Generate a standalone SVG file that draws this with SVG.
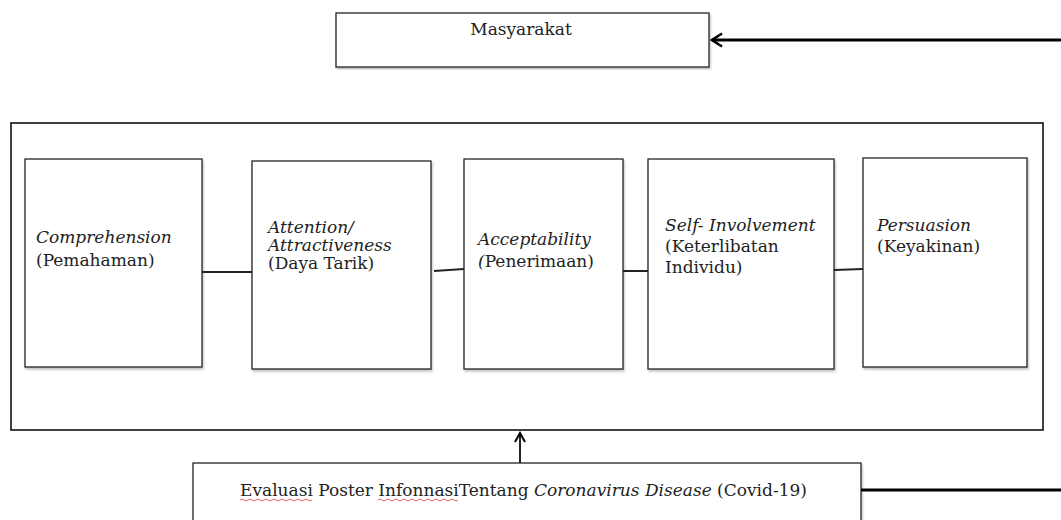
<svg xmlns="http://www.w3.org/2000/svg" width="1061" height="520" viewBox="0 0 1061 520">
<defs>
<filter id="sh" x="-5%" y="-5%" width="110%" height="110%">
<feDropShadow dx="1" dy="2" stdDeviation="1" flood-color="#000" flood-opacity="0.25"/>
</filter>
<marker id="chev" viewBox="0 0 12 12" refX="10" refY="6" markerWidth="12" markerHeight="12" markerUnits="userSpaceOnUse" orient="auto">
<path d="M1,1 L10,6 L1,11" fill="none" stroke="#000" stroke-width="2"/>
</marker>
<marker id="chevBig" viewBox="0 0 14 16" refX="12" refY="8" markerWidth="14" markerHeight="16" markerUnits="userSpaceOnUse" orient="auto">
<path d="M2,1.5 L12,8 L2,14.5" fill="none" stroke="#000" stroke-width="2.6"/>
</marker>
</defs>
<style>
.box{fill:#fff;stroke:#222;stroke-width:1.3;filter:url(#sh)}
.outer{fill:#fff;stroke:#111;stroke-width:1.6}
text{font-family:"DejaVu Serif","Liberation Serif",serif;font-size:17px;fill:#222}
.it{font-style:italic}
.con{stroke:#222;stroke-width:2;fill:none}
.thick{stroke:#000;stroke-width:3;fill:none}
.sq{stroke:#d33;stroke-width:0.8;fill:none}
</style>
<rect width="1061" height="520" fill="#fff"/>
<g id="masyarakat">
<rect class="box" x="336" y="13" width="373" height="54"/>
<text x="521" y="35" text-anchor="middle">Masyarakat</text>
</g>
<g id="outer">
<rect class="outer" x="11" y="123" width="1032" height="307"/>
</g>
<g id="comprehension">
<rect class="box" x="25" y="159" width="177" height="208"/>
<text x="36" y="243"><tspan class="it">Comprehension</tspan><tspan x="36" dy="23">(Pemahaman)</tspan></text>
</g>
<g id="attention">
<rect class="box" x="252" y="161" width="179" height="208"/>
<text x="268" y="233"><tspan class="it">Attention/</tspan><tspan class="it" x="268" dy="18">Attractiveness</tspan><tspan x="268" dy="18">(Daya Tarik)</tspan></text>
</g>
<g id="acceptability">
<rect class="box" x="464" y="159" width="159" height="210"/>
<text x="478" y="245"><tspan class="it">Acceptability</tspan><tspan x="478" dy="22"><tspan class="it">(</tspan>Penerimaan)</tspan></text>
</g>
<g id="self-involvement">
<rect class="box" x="648" y="159" width="186" height="210"/>
<text x="665" y="231"><tspan class="it">Self- Involvement</tspan><tspan x="665" dy="21">(Keterlibatan</tspan><tspan x="665" dy="21">Individu)</tspan></text>
</g>
<g id="persuasion">
<rect class="box" x="863" y="158" width="164" height="209"/>
<text x="877" y="231"><tspan class="it">Persuasion</tspan><tspan x="877" dy="21">(Keyakinan)</tspan></text>
</g>
<g id="evaluasi">
<rect class="box" x="193" y="463" width="668" height="70"/>
<text x="240" y="496">Evaluasi Poster InfonnasiTentang <tspan class="it">Coronavirus Disease</tspan> (Covid-19)</text>
<path class="sq" d="M240,500 q2,-2 4,0 t4,0 t4,0 t4,0 t4,0 t4,0 t4,0 t4,0 t4,0 t4,0 t4,0 t4,0 t4,0 t4,0 t4,0 t4,0 t4,0 t4,0"/>
<path class="sq" d="M378,500 q2,-2 4,0 t4,0 t4,0 t4,0 t4,0 t4,0 t4,0 t4,0 t4,0 t4,0 t4,0 t4,0 t4,0 t4,0 t4,0 t4,0 t4,0 t4,0 t4,0 t4,0"/>
</g>
<g id="connectors">
<line class="con" x1="202" y1="272" x2="252" y2="272"/>
<line class="con" x1="434" y1="271" x2="464" y2="269"/>
<line class="con" x1="623" y1="271" x2="648" y2="271"/>
<line class="con" x1="834" y1="270" x2="863" y2="269"/>
<line class="thick" x1="1061" y1="40" x2="712" y2="40" marker-end="url(#chevBig)"/>
<line class="con" x1="520" y1="463" x2="520" y2="433" marker-end="url(#chev)"/>
<line class="thick" x1="861" y1="490" x2="1061" y2="490"/>
</g>
</svg>
